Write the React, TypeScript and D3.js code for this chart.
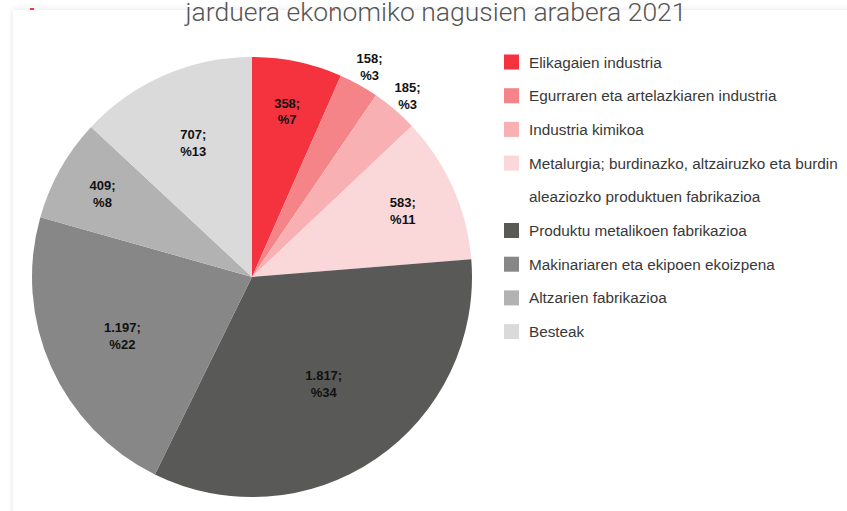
import * as d3 from "d3";
import { useEffect, useRef } from "react";

const categories = [
  "Elikagaien industria",
  "Egurraren eta artelazkiaren industria",
  "Industria kimikoa",
  "Metalurgia; burdinazko, altzairuzko eta burdin aleaziozko produktuen fabrikazioa",
  "Produktu metalikoen fabrikazioa",
  "Makinariaren eta ekipoen ekoizpena",
  "Altzarien fabrikazioa",
  "Besteak",
];
const values = [358, 158, 185, 583, 1817, 1197, 409, 707];
const legendLines = [
  ["Elikagaien industria"],
  ["Egurraren eta artelazkiaren industria"],
  ["Industria kimikoa"],
  ["Metalurgia; burdinazko, altzairuzko eta burdin", "aleaziozko produktuen fabrikazioa"],
  ["Produktu metalikoen fabrikazioa"],
  ["Makinariaren eta ekipoen ekoizpena"],
  ["Altzarien fabrikazioa"],
  ["Besteak"],
];
const colors = ["#f5333f", "#f58489", "#f8b0b3", "#fad7d9", "#595957", "#878787", "#b2b2b2", "#dadada"];
// label distance from centre, as a share of the radius (Excel "best fit")
const labelRadius = [0.775, 1.1, 1.09, 0.75, 0.58, 0.645, 0.78, 0.67];

const W = 847, H = 511;

const App = () => {
  const ref = useRef<SVGSVGElement>(null);

  useEffect(() => {
    const svg = d3.select(ref.current);
    svg.selectAll("*").remove();

    const defs = svg.append("defs");
    const f = defs.append("filter").attr("id", "sh").attr("x", "-5%").attr("y", "-5%").attr("width", "110%").attr("height", "110%");
    f.append("feGaussianBlur").attr("in", "SourceAlpha").attr("stdDeviation", 3);
    f.append("feComponentTransfer").append("feFuncA").attr("type", "linear").attr("slope", 0.12);
    const m = f.append("feMerge");
    m.append("feMergeNode");
    m.append("feMergeNode").attr("in", "SourceGraphic");

    // card
    svg.append("rect").attr("x", 13).attr("y", 10).attr("width", W + 20).attr("height", H + 20)
      .attr("fill", "#fff").attr("filter", "url(#sh)");
    svg.append("rect").attr("x", 30).attr("y", 8).attr("width", 4).attr("height", 2).attr("fill", "#f5333f");

    svg.append("text")
      .attr("x", 436).attr("y", 21)
      .attr("text-anchor", "middle")
      .style("font-family", "Roboto, 'Liberation Sans', sans-serif")
      .style("font-weight", 300)
      .style("font-size", "26.5px")
      .attr("fill", "#555")
      .text("jarduera ekonomiko nagusien arabera 2021");
    svg.append("rect").attr("x", 331).attr("y", 9).attr("width", 4).attr("height", 1.5).attr("fill", "#f5333f");

    const cx = 252, cy = 277, R = 220;
    const total = d3.sum(values);
    const pie = d3.pie<number>().sort(null).value((d) => d);
    const arcs = pie(values);
    const arc = d3.arc<d3.PieArcDatum<number>>().innerRadius(0).outerRadius(R);

    const g = svg.append("g").attr("transform", `translate(${cx},${cy})`);
    g.selectAll("path").data(arcs).enter().append("path")
      .attr("d", arc)
      .attr("fill", (_, i) => colors[i]);

    const fmt = d3.formatLocale({ decimal: ",", thousands: ".", grouping: [3], currency: ["", "€"] }).format(",d");

    const lab = g.selectAll("text.lab").data(arcs).enter().append("text")
      .attr("class", "lab")
      .attr("transform", (d, i) => {
        const r = R * labelRadius[i];
        const a = d3.arc<d3.PieArcDatum<number>>().innerRadius(r).outerRadius(r);
        const [x, y] = a.centroid(d);
        return `translate(${x},${y})`;
      })
      .attr("text-anchor", "middle")
      .style("font-family", "'Liberation Sans', Arial, sans-serif")
      .style("font-weight", "bold")
      .style("font-size", "13px")
      .attr("fill", "#111");
    lab.append("tspan").attr("x", 0).attr("dy", "-0.2em").text((d) => `${fmt(d.data)};`);
    lab.append("tspan").attr("x", 0).attr("dy", "1.3em").text((d) => `%${Math.round((d.data / total) * 100)}`);

    // legend
    const rowH = 33.7;
    let row = 0;
    const lg = svg.append("g").attr("transform", "translate(504,62)");
    categories.forEach((c, i) => {
      const y0 = row * rowH;
      lg.append("rect").attr("x", 0).attr("y", y0 - 7.5).attr("width", 15).attr("height", 15).attr("fill", colors[i]);
      legendLines[i].forEach((line, j) => {
        lg.append("text")
          .attr("x", 25).attr("y", (row + j) * rowH + 5.5)
          .style("font-family", "'Liberation Sans', Arial, sans-serif")
          .style("font-size", "15.3px")
          .attr("fill", "#383838")
          .text(line);
      });
      row += legendLines[i].length;
    });
  }, []);

  return (
    <div style={{ position: "absolute", left: 0, top: 0, width: W, height: H, overflow: "hidden", background: "#fff" }}>
      <svg ref={ref} width={W} height={H} />
    </div>
  );
};

export default App;
